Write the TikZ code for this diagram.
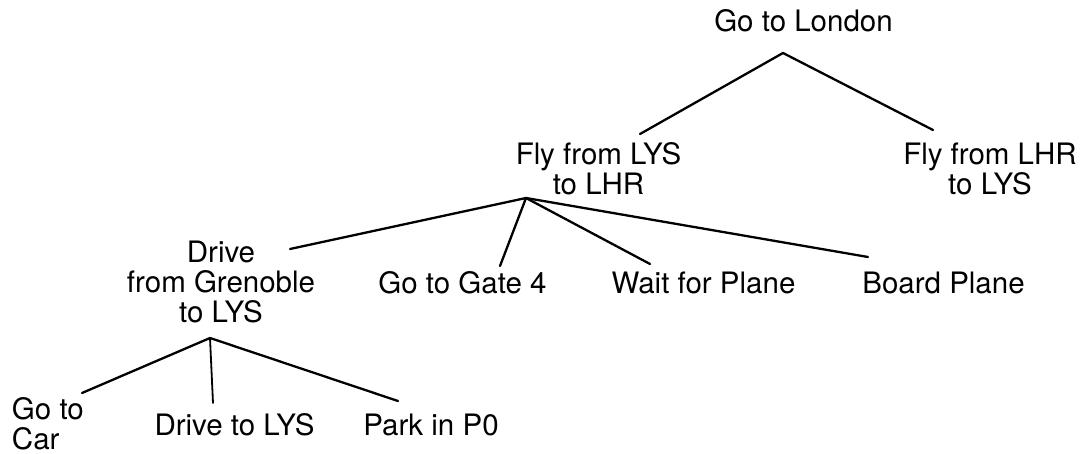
\documentclass[tikz,border=0pt]{standalone}
\usepackage{fontspec}
\setmainfont{TeX Gyre Heros}
\begin{document}
\begin{tikzpicture}[x=1pt,y=-1pt,
  lbl/.style={inner sep=0pt,outer sep=0pt,anchor=base,align=center,
    font=\fontsize{29.5}{30}\selectfont},
  edge/.style={line width=2.3pt,line cap=round,line join=round}]
\useasboundingbox (0,0) rectangle (1083,454);
% text nodes (base anchor = baseline of the last line)
\node[lbl] (root) at (803.5,32) {Go to London};
\node[lbl] (flyA) at (598.5,195) {Fly from LYS\\to LHR};
\node[lbl] (flyB) at (990,195) {Fly from LHR\\to LYS};
\node[lbl] (drive) at (221,322) {Drive\\from Grenoble\\to LYS};
\node[lbl] (gate) at (462.5,293) {Go to Gate 4};
\node[lbl] (wait) at (703.5,293) {Wait for Plane};
\node[lbl] (board) at (943.5,293) {Board Plane};
\node[lbl,anchor=base west,align=left] (car) at (12,449) {Go to\\Car};
\node[lbl] (dlys) at (234.5,435) {Drive to LYS};
\node[lbl] (park) at (431,435) {Park in P0};
% connector ends
\coordinate (rootA) at (783,53);
\coordinate (flyAT) at (640,134);
\coordinate (flyBT) at (933,130);
\coordinate (flyAA) at (526,198);
\coordinate (driveT) at (290,249);
\coordinate (gateT) at (500,266);
\coordinate (waitT) at (650,264);
\coordinate (boardT) at (868,257);
\coordinate (driveA) at (210,338);
\coordinate (carT) at (82,393);
\coordinate (dlysT) at (213,403);
\coordinate (parkT) at (398,401);
% connectors
\draw[edge] (flyAT) -- (rootA) -- (flyBT);
\draw[edge] (flyAA) -- (driveT);
\draw[edge] (flyAA) -- (gateT);
\draw[edge] (flyAA) -- (waitT);
\draw[edge] (flyAA) -- (boardT);
\draw[edge] (driveA) -- (carT);
\draw[edge,line width=1.8pt] (driveA) -- (dlysT);
\draw[edge] (driveA) -- (parkT);
\end{tikzpicture}
\end{document}
